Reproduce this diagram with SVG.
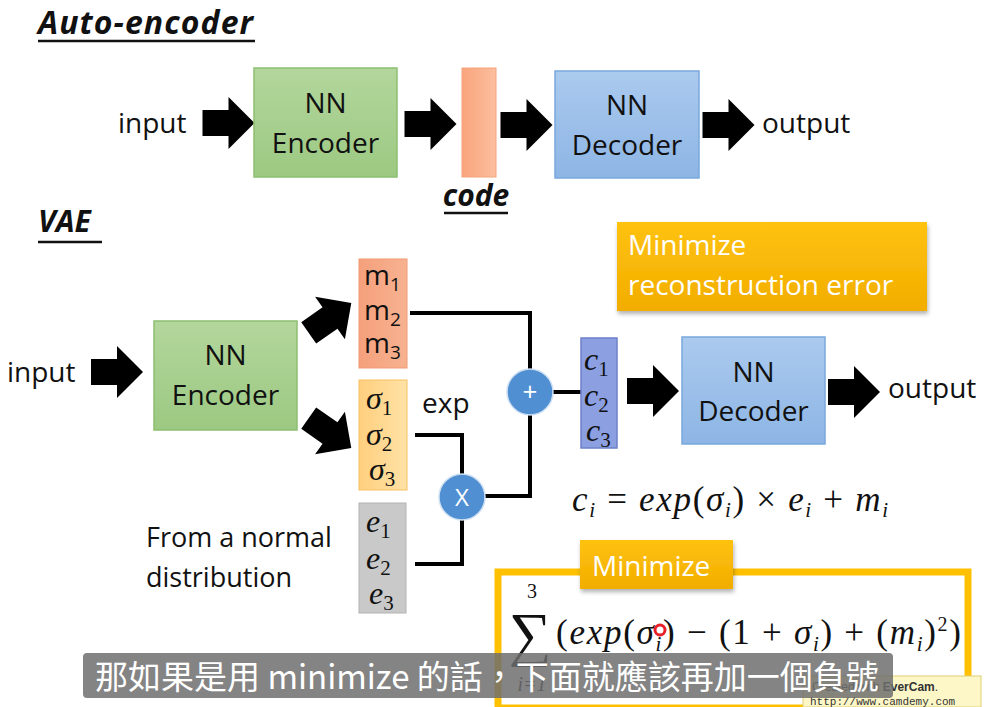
<svg xmlns="http://www.w3.org/2000/svg" width="986" height="707" viewBox="0 0 986 707">
<defs>
<linearGradient id="gGreen" x1="0" y1="0" x2="0" y2="1"><stop offset="0" stop-color="#b3d69c"/><stop offset="1" stop-color="#9cc982"/></linearGradient>
<linearGradient id="gBlue" x1="0" y1="0" x2="0" y2="1"><stop offset="0" stop-color="#abcaee"/><stop offset="1" stop-color="#8db5e5"/></linearGradient>
<linearGradient id="gCode" x1="0" y1="0" x2="1" y2="0"><stop offset="0" stop-color="#f9a47c"/><stop offset="1" stop-color="#fbbf9e"/></linearGradient>
<linearGradient id="gM" x1="0" y1="0" x2="1" y2="0"><stop offset="0" stop-color="#f5a07c"/><stop offset="1" stop-color="#f7b290"/></linearGradient>
<linearGradient id="gS" x1="0" y1="0" x2="1" y2="0"><stop offset="0" stop-color="#ffcf7e"/><stop offset="1" stop-color="#ffe2a6"/></linearGradient>
<linearGradient id="gGold" x1="0" y1="0" x2="0" y2="1"><stop offset="0" stop-color="#ffc20e"/><stop offset="1" stop-color="#f2ad00"/></linearGradient>
<path id="barrow" d="M-26,-13 L0,-13 L0,-26 L26,0 L0,26 L0,13 L-26,13 Z" fill="#000"/>
<filter id="sh" x="-10%" y="-10%" width="120%" height="130%"><feDropShadow dx="1" dy="3" stdDeviation="2" flood-color="#000" flood-opacity="0.3"/></filter>
</defs>
<style>
.t{font-family:"Open Sans",Lato,"Liberation Sans",sans-serif;font-size:28px;fill:#111}
.tc{font-family:"Open Sans",Lato,"Liberation Sans",sans-serif;font-size:28px;fill:#111;text-anchor:middle}
.ttl{font-family:"Open Sans",Lato,"Liberation Sans",sans-serif;font-size:30px;font-weight:bold;font-style:italic;fill:#111}
.w{font-family:"Open Sans",Lato,"Liberation Sans",sans-serif;font-size:28px;fill:#fff}
.m{font-family:"Liberation Serif","DejaVu Serif",serif;font-style:italic;font-size:32px;fill:#111}
.sub{font-size:21px}
.ln{fill:none;stroke:#000;stroke-width:4}
.op{fill:#4f8fd2;stroke:#cfe0f3;stroke-width:1.5}
</style>
<rect width="986" height="707" fill="#fff"/>

<g id="title-ae">
<text class="ttl" x="38" y="34" style="font-size:32px" textLength="215" lengthAdjust="spacing">Auto-encoder</text>
<line x1="38" y1="41" x2="255" y2="41" stroke="#111" stroke-width="2.5"/>
</g>
<g id="title-vae">
<text class="ttl" x="38" y="232">VAE</text>
<line x1="38" y1="242" x2="102" y2="242" stroke="#111" stroke-width="2.5"/>
</g>

<g id="connectors">
<use href="#barrow" transform="translate(228.5,123)"/>
<use href="#barrow" transform="translate(430.5,124)"/>
<use href="#barrow" transform="translate(526.5,125)"/>
<use href="#barrow" transform="translate(728.5,125)"/>
<use href="#barrow" transform="translate(117,372)"/>
<use href="#barrow" transform="translate(330,318) rotate(-35)"/>
<use href="#barrow" transform="translate(330,433) rotate(35)"/>
<use href="#barrow" transform="translate(653,391)"/>
<use href="#barrow" transform="translate(854,392)"/>
<polyline class="ln" points="410,313 530,313 530,370"/>
<polyline class="ln" points="530,415 530,496 485,496"/>
<line class="ln" x1="553" y1="392" x2="582" y2="392"/>
<polyline class="ln" points="415,435 462,435 462,474"/>
<polyline class="ln" points="462,520 462,564 415,564"/>
</g>

<g id="ae-input"><text class="t" x="118" y="133">input</text></g>
<g id="ae-encoder">
<rect x="254" y="68" width="143" height="109" fill="url(#gGreen)" stroke="#8cbf70" stroke-width="1.5"/>
<text class="tc" x="325.5" y="113">NN</text>
<text class="tc" x="325.5" y="153">Encoder</text>
</g>
<g id="ae-code">
<rect x="462" y="68" width="34" height="109" fill="url(#gCode)" stroke="#f3a47a" stroke-width="1"/>
<text class="ttl" x="476" y="206" text-anchor="middle">code</text>
<line x1="444" y1="213" x2="508" y2="213" stroke="#111" stroke-width="2.5"/>
</g>
<g id="ae-decoder">
<rect x="555" y="71" width="144" height="107" fill="url(#gBlue)" stroke="#7aa8dd" stroke-width="1.5"/>
<text class="tc" x="627" y="115">NN</text>
<text class="tc" x="627" y="155">Decoder</text>
</g>
<g id="ae-output"><text class="t" x="762" y="133">output</text></g>

<g id="vae-input"><text class="t" x="7" y="382">input</text></g>
<g id="vae-encoder">
<rect x="154" y="321" width="143" height="109" fill="url(#gGreen)" stroke="#8cbf70" stroke-width="1.5"/>
<text class="tc" x="225.5" y="365">NN</text>
<text class="tc" x="225.5" y="405">Encoder</text>
</g>
<g id="vae-m">
<rect x="359" y="259" width="48" height="109" fill="url(#gM)" stroke="#f09a72" stroke-width="1"/>
<text class="t" x="364" y="285">m<tspan font-size="19" dy="6">1</tspan></text>
<text class="t" x="364" y="320">m<tspan font-size="19" dy="6">2</tspan></text>
<text class="t" x="364" y="353">m<tspan font-size="19" dy="6">3</tspan></text>
</g>
<g id="vae-sigma">
<rect x="359" y="380" width="48" height="110" fill="url(#gS)" stroke="#f5c060" stroke-width="1"/>
<text class="m" x="366" y="409">σ<tspan class="sub" font-style="normal" dy="6">1</tspan></text>
<text class="m" x="366" y="445">σ<tspan class="sub" font-style="normal" dy="6">2</tspan></text>
<text class="m" x="369" y="480">σ<tspan class="sub" font-style="normal" dy="6">3</tspan></text>
</g>
<g id="vae-exp"><text class="t" x="422" y="413">exp</text></g>
<g id="vae-e">
<rect x="359" y="503" width="47" height="110" fill="#c9c9c9" stroke="#b3b3b3" stroke-width="1"/>
<text class="m" x="366" y="532">e<tspan class="sub" font-style="normal" dy="6">1</tspan></text>
<text class="m" x="366" y="569">e<tspan class="sub" font-style="normal" dy="6">2</tspan></text>
<text class="m" x="369" y="604">e<tspan class="sub" font-style="normal" dy="6">3</tspan></text>
</g>
<g id="vae-normal">
<text class="t" x="146" y="547" style="font-size:27px">From a normal</text>
<text class="t" x="146" y="587" style="font-size:27px">distribution</text>
</g>
<g id="vae-times">
<circle class="op" cx="462" cy="497" r="23"/>
<text x="462" y="506" text-anchor="middle" font-family="'Open Sans','Liberation Sans',sans-serif" font-size="24" fill="#fff">X</text>
</g>
<g id="vae-plus">
<circle class="op" cx="530" cy="392" r="23"/>
<text x="530" y="401" text-anchor="middle" font-family="'Open Sans','Liberation Sans',sans-serif" font-size="26" fill="#fff">+</text>
</g>
<g id="vae-c">
<rect x="581" y="338" width="36" height="110" fill="#8c9fe0" stroke="#6f80c9" stroke-width="1.5"/>
<text class="m" x="584" y="370">c<tspan class="sub" font-style="normal" dy="6">1</tspan></text>
<text class="m" x="584" y="406">c<tspan class="sub" font-style="normal" dy="6">2</tspan></text>
<text class="m" x="586" y="441">c<tspan class="sub" font-style="normal" dy="6">3</tspan></text>
</g>
<g id="vae-decoder">
<rect x="682" y="337" width="143" height="107" fill="url(#gBlue)" stroke="#7aa8dd" stroke-width="1.5"/>
<text class="tc" x="753.5" y="382">NN</text>
<text class="tc" x="753.5" y="421">Decoder</text>
</g>
<g id="vae-output"><text class="t" x="888" y="398">output</text></g>

<g id="min-recon">
<rect x="617" y="222" width="310" height="89" fill="url(#gGold)" filter="url(#sh)"/>
<text class="w" x="628" y="255">Minimize</text>
<text class="w" x="628" y="295">reconstruction error</text>
</g>

<g id="formula-c">
<text class="m" x="572" y="511" style="font-size:35px" textLength="316" lengthAdjust="spacing">c<tspan class="sub" dy="6">i</tspan><tspan dy="-6" font-style="normal"> = </tspan><tspan>exp</tspan><tspan font-style="normal">(</tspan><tspan>σ</tspan><tspan class="sub" dy="6">i</tspan><tspan dy="-6" font-style="normal">) × </tspan><tspan>e</tspan><tspan class="sub" dy="6">i</tspan><tspan dy="-6" font-style="normal"> + </tspan><tspan>m</tspan><tspan class="sub" dy="6">i</tspan></text>
</g>

<g id="min-kl">
<rect x="498" y="572" width="470" height="136" fill="#fff" stroke="#ffc000" stroke-width="7"/>
<text x="532" y="598" text-anchor="middle" font-family="'Liberation Serif',serif" font-size="20" fill="#111">3</text>
<text x="530" y="654" text-anchor="middle" font-family="'Liberation Serif','DejaVu Serif',serif" font-size="60" fill="#111">∑</text>
<text x="556" y="644" class="m" style="font-size:35px" textLength="405" lengthAdjust="spacing"><tspan font-style="normal">(</tspan>exp<tspan font-style="normal">(</tspan>σ<tspan class="sub" dy="7">i</tspan><tspan dy="-7" font-style="normal">) − (1 + </tspan>σ<tspan class="sub" dy="7">i</tspan><tspan dy="-7" font-style="normal">) + (</tspan>m<tspan class="sub" dy="7">i</tspan><tspan dy="-7" font-style="normal">)</tspan><tspan font-style="normal" font-size="20" dy="-13">2</tspan><tspan font-style="normal" dy="13">)</tspan></text>
<circle cx="660" cy="630" r="5" fill="#fff" stroke="#e8202a" stroke-width="3"/>
<rect x="580" y="540" width="153" height="49" fill="url(#gGold)" filter="url(#sh)"/>
<text class="w" x="592" y="576">Minimize</text>
</g>

<g id="watermark">
<rect x="803" y="676" width="178" height="31" fill="#fdf7c8" stroke="#e0d070" stroke-width="1"/>
<text x="812" y="691" font-family="'Liberation Sans',sans-serif" font-size="12" fill="#333">Created with <tspan font-weight="bold">EverCam</tspan>.</text>
<text x="810" y="705" font-family="'Liberation Mono',monospace" font-size="11" fill="#333">http://www.camdemy.com</text>
</g>

<g id="subtitle">
<text x="532" y="691" text-anchor="middle" font-family="'Liberation Serif',serif" font-style="italic" font-size="20" fill="#111">i=1</text>
<rect x="83" y="653" width="810" height="45" rx="4" fill="#6e6e6e" fill-opacity="0.85"/>
<text x="95" y="689" font-family="'Noto Sans CJK TC','Noto Sans',sans-serif" font-size="33" fill="#fff">那如果是用 minimize 的話，下面就應該再加一個負號</text>
</g>
</svg>
